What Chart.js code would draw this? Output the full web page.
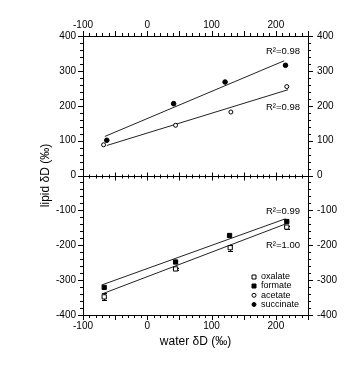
<!DOCTYPE html>
<html><head><meta charset="utf-8">
<script src="https://cdn.jsdelivr.net/npm/chart.js@4/dist/chart.umd.min.js"></script>
<style>html,body{margin:0;padding:0;background:#fff;}</style>
</head><body>
<canvas id="c" width="357" height="373" style="width:357px;height:373px;display:block"></canvas>
<script>
// ---- data ----
const seriesNames = ['oxalate', 'formate', 'acetate', 'succinate'];
const oxalateX = [-67, 44, 129, 217];
const oxalateY = [-348, -268, -207, -148];
const oxalateErr = [10, 3, 9, 4];
const formateX = [-67, 44, 128, 217];
const formateY = [-321, -248, -172, -132];
const acetateX = [-68, 44, 130, 217];
const acetateY = [88, 144, 182, 255];
const succinateX = [-63, 41, 121, 215];
const succinateY = [101, 206, 268, 316];
// regression line end points
const fitSuccinateX = [-66, 213], fitSuccinateY = [112, 329];
const fitAcetateX = [-63, 219], fitAcetateY = [86, 246];
const fitFormateX = [-71, 215], fitFormateY = [-314, -124];
const fitOxalateX = [-71, 215], fitOxalateY = [-340, -139];
const r2Labels = ['R\u00B2=0.98', 'R\u00B2=0.98', 'R\u00B2=0.99', 'R\u00B2=1.00'];
const r2AnchorY = [357, 194, -103, -200];
const xTickLabels = [-100, 0, 100, 200];
const yTickLabels = [400, 300, 200, 100, 0, -100, -200, -300, -400];

const pts = (xs, ys) => xs.map((x, i) => ({x, y: ys[i]}));
Chart.defaults.font.family = "'Liberation Sans', Arial, sans-serif";
Chart.defaults.color = '#000';

const ptStyle = {
  oxalate: {pointStyle: 'rect', pointRadius: 3, backgroundColor: '#fff', borderColor: '#000'},
  formate: {pointStyle: 'rect', pointRadius: 3, backgroundColor: '#000', borderColor: '#000'},
  acetate: {pointStyle: 'circle', pointRadius: 2, backgroundColor: '#fff', borderColor: '#000'},
  succinate: {pointStyle: 'circle', pointRadius: 2.3, backgroundColor: '#000', borderColor: '#000'}
};
const seriesData = {
  oxalate: pts(oxalateX, oxalateY), formate: pts(formateX, formateY),
  acetate: pts(acetateX, acetateY), succinate: pts(succinateX, succinateY)
};
const datasets = seriesNames.map(n => Object.assign({
  type: 'scatter', label: n, data: seriesData[n], borderWidth: 1, pointHoverRadius: 3
}, ptStyle[n]));
[[fitSuccinateX, fitSuccinateY], [fitAcetateX, fitAcetateY], [fitFormateX, fitFormateY], [fitOxalateX, fitOxalateY]]
  .forEach(([xs, ys]) => datasets.push({type: 'line', label: 'fit', data: pts(xs, ys), borderColor: '#222',
    borderWidth: 1, pointRadius: 0, fill: false, showLine: true}));

const deco = {
  id: 'deco',
  beforeDatasetsDraw(chart) {
    const ctx = chart.ctx, xs = chart.scales.x, ys = chart.scales.y;
    ctx.save();
    ctx.strokeStyle = '#000'; ctx.lineWidth = 1;
    oxalateX.forEach((x, i) => {
      const px = Math.round(xs.getPixelForValue(x)) + 0.5;
      const y1 = ys.getPixelForValue(oxalateY[i] + oxalateErr[i]);
      const y2 = ys.getPixelForValue(oxalateY[i] - oxalateErr[i]);
      ctx.beginPath();
      ctx.moveTo(px, y1); ctx.lineTo(px, y2);
      ctx.moveTo(px - 2.5, Math.round(y1) + 0.5); ctx.lineTo(px + 2.5, Math.round(y1) + 0.5);
      ctx.moveTo(px - 2.5, Math.round(y2) + 0.5); ctx.lineTo(px + 2.5, Math.round(y2) + 0.5);
      ctx.stroke();
    });
    ctx.restore();
  },
  afterDraw(chart) {
    const ctx = chart.ctx, xs = chart.scales.x, ys = chart.scales.y, ca = chart.chartArea;
    ctx.save();
    ctx.strokeStyle = '#000'; ctx.lineWidth = 1;
    const y0 = Math.round(ys.getPixelForValue(0)) + 0.5;
    ctx.beginPath();
    ctx.moveTo(ca.left, y0); ctx.lineTo(ca.right, y0);
    for (let v = -100; v <= 250; v += 10) {
      const px = Math.round(xs.getPixelForValue(v)) + 0.5;
      const major = v % 50 === 0, len = major ? 5 : 3;
      ctx.moveTo(px, ca.bottom); ctx.lineTo(px, ca.bottom + len);
      ctx.moveTo(px, ca.top); ctx.lineTo(px, ca.top - len);
      const h = major ? 4 : 2;
      ctx.moveTo(px, y0 - h); ctx.lineTo(px, y0 + h);
    }
    for (let v = -400; v <= 400; v += 20) {
      const py = Math.round(ys.getPixelForValue(v)) + 0.5;
      const major = v % 100 === 0, len = major ? 5 : 3;
      ctx.moveTo(ca.left - len, py); ctx.lineTo(ca.left, py);
      ctx.moveTo(ca.right, py); ctx.lineTo(ca.right + len, py);
    }
    ctx.stroke();
    // R2 labels
    ctx.fillStyle = '#000';
    ctx.font = "9.5px 'Liberation Sans', Arial, sans-serif";
    ctx.textAlign = 'right'; ctx.textBaseline = 'middle';
    r2Labels.forEach((t, i) => ctx.fillText(t, ca.right - 8, ys.getPixelForValue(r2AnchorY[i])));
    // legend
    ctx.font = "9px 'Liberation Sans', Arial, sans-serif";
    ctx.textAlign = 'left';
    const rows = [38, 29, 19.7, 10.5];
    seriesNames.forEach((n, i) => {
      const cy = ca.bottom - rows[i], cx = ca.right - 54;
      const st = ptStyle[n];
      ctx.beginPath();
      if (st.pointStyle === 'rect') {
        ctx.rect(Math.round(cx) - 2, Math.round(cy) - 2, 4, 4);
      } else {
        ctx.arc(cx, cy, 2, 0, Math.PI * 2);
      }
      ctx.fillStyle = st.backgroundColor; ctx.fill();
      ctx.strokeStyle = '#000'; ctx.stroke();
      ctx.fillStyle = '#000';
      ctx.fillText(n, ca.right - 47, cy);
    });
    ctx.restore();
  }
};

const tickFont = {size: 10};
new Chart(document.getElementById('c'), {
  data: {datasets},
  options: {
    responsive: false, animation: false, devicePixelRatio: 1,
    layout: {padding: {left: 38, right: 0, top: 0, bottom: 24}},
    plugins: {legend: {display: false}, tooltip: {enabled: false}},
    scales: {
      x: {type: 'linear', position: 'bottom', min: -100, max: 250,
        afterFit(s) { s.height = 34; },
        afterBuildTicks(s) { s.ticks = xTickLabels.map(v => ({value: v})); },
        ticks: {font: tickFont, padding: 5, maxRotation: 0, color: '#000'},
        grid: {display: false, drawTicks: false},
        border: {display: true, color: '#000', width: 1},
        title: {display: true, text: 'water \u03B4D (\u2030)', font: {size: 12}, color: '#000', padding: 0}},
      x2: {type: 'linear', position: 'top', min: -100, max: 250,
        afterFit(s) { s.height = 36; },
        afterBuildTicks(s) { s.ticks = xTickLabels.map(v => ({value: v})); },
        ticks: {font: tickFont, padding: 5, maxRotation: 0, color: '#000'},
        grid: {display: false, drawTicks: false},
        border: {display: true, color: '#000', width: 1}},
      y: {type: 'linear', position: 'left', min: -400, max: 400,
        afterFit(s) { s.width = 45; },
        afterBuildTicks(s) { s.ticks = yTickLabels.map(v => ({value: v})); },
        ticks: {font: tickFont, padding: 7, color: '#000'},
        grid: {display: false, drawTicks: false},
        border: {display: true, color: '#000', width: 1},
        title: {display: true, text: 'lipid \u03B4D (\u2030)', font: {size: 12}, color: '#000', padding: 0}},
      y2: {type: 'linear', position: 'right', min: -400, max: 400,
        afterFit(s) { s.width = 49; },
        afterBuildTicks(s) { s.ticks = yTickLabels.map(v => ({value: v})); },
        ticks: {font: tickFont, padding: 9, color: '#000'},
        grid: {display: false, drawTicks: false},
        border: {display: true, color: '#000', width: 1}}
    }
  },
  plugins: [deco]
});
</script>
</body></html>
